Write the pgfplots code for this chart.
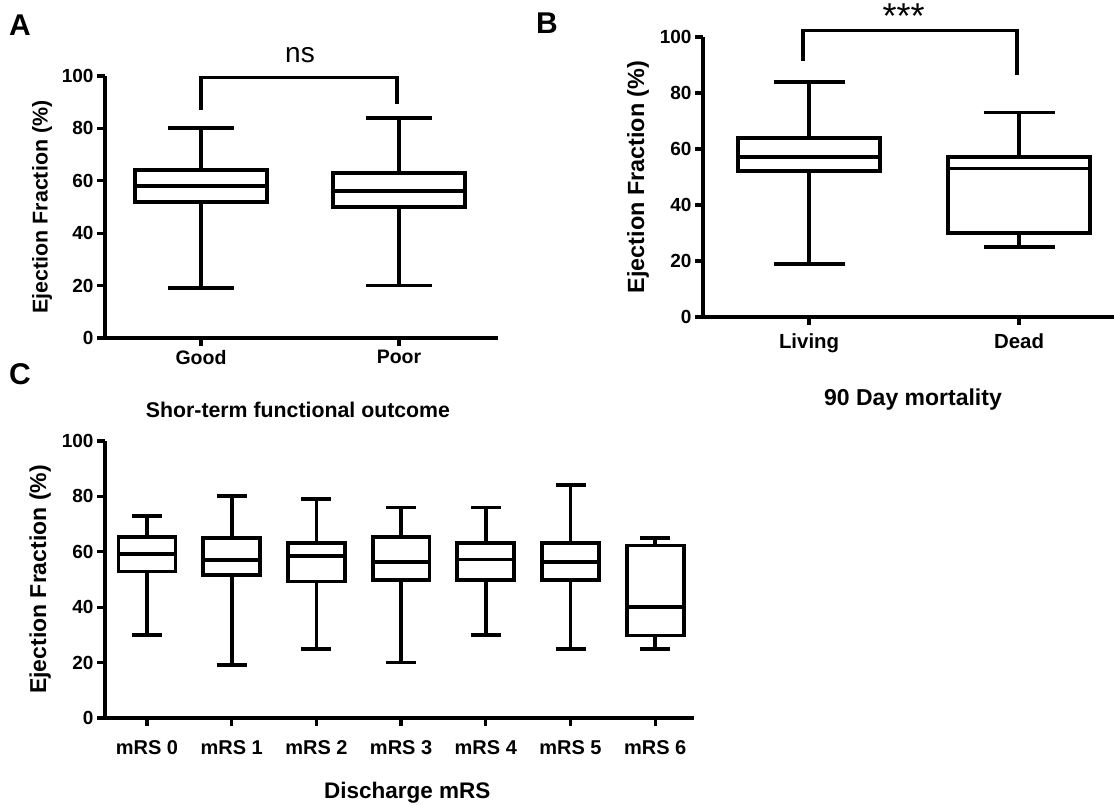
\documentclass[border=0pt]{standalone}
\usepackage{fontspec}
\setmainfont{Liberation Sans}
\usepackage{pgfplots}
\pgfplotsset{compat=1.18}

\pgfplotsset{
  gp/.style={
    scale only axis,
    axis x line*=bottom, axis y line*=left,
    axis line style={-, line width=3.3bp, black},
    tick align=outside,
    major tick length=8bp,
    every tick/.style={black, line width=3.3bp},
    ymin=0, ymax=100, ytick={0,20,...,100},
    /pgf/number format/assume math mode=true,
    tick label style={font=\fontsize{19bp}{22bp}\selectfont\bfseries},
    label style={font=\fontsize{20bp}{23bp}\selectfont\bfseries},
    clip=false,
  },
  wk/.style={black, line width=3.8bp, line join=miter, no markers, solid},
  br/.style={black, line width=3.5bp, line join=miter, no markers},
}

% \bxp{position}{lower whisker}{Q1}{median}{Q3}{upper whisker}{half box width}{half cap width}
\newcommand\bxp[8]{%
  \pgfmathsetmacro\bxL{#1-#7}\pgfmathsetmacro\bxR{#1+#7}%
  \pgfmathsetmacro\cpL{#1-#8}\pgfmathsetmacro\cpR{#1+#8}%
  \edef\bxtmp{%
  \noexpand\addplot[wk] coordinates {(#1,#3) (#1,#2)};
  \noexpand\addplot[wk] coordinates {(\cpL,#2) (\cpR,#2)};
  \noexpand\addplot[wk] coordinates {(#1,#5) (#1,#6)};
  \noexpand\addplot[wk] coordinates {(\cpL,#6) (\cpR,#6)};
  \noexpand\addplot[wk, fill=white] coordinates {(\bxL,#3) (\bxR,#3) (\bxR,#5) (\bxL,#5)} -- cycle;
  \noexpand\addplot[wk] coordinates {(\bxL,#4) (\bxR,#4)};
  }\bxtmp}

\begin{document}
\begin{tikzpicture}
\useasboundingbox (0bp,0bp) rectangle (1114bp,806bp);

% ---------------- Panel A ----------------
\begin{axis}[gp,
  at={(105bp,468bp)}, anchor=south west,
  width=393bp, height=262bp,
  xmin=-0.485, xmax=1.5,
  xtick={0,1}, xticklabels={Good,Poor},
  xticklabel style={font=\fontsize{19.5bp}{22bp}\selectfont\bfseries, yshift=-1bp},
  xlabel={Shor-term functional outcome},
  xlabel style={at={(axis description cs:0.491,-0.275)}, anchor=center,
    font=\fontsize{21.3bp}{24bp}\selectfont\bfseries},
  ylabel={Ejection Fraction (\%)},
  ylabel style={at={(axis description cs:-0.160,0.5)}, anchor=center,
    font=\fontsize{21.4bp}{24bp}\selectfont\bfseries},
]
\bxp{0}{19}{52}{58}{64}{80}{0.335}{0.165}
\bxp{1}{20}{50}{56}{63}{84}{0.335}{0.165}
\addplot[br] coordinates {(0,87) (0,99.5) (0.99,99.5) (0.99,89.5)};
\node[font=\fontsize{28bp}{30bp}\selectfont] at (axis cs:0.5,108) {ns};
\end{axis}

% ---------------- Panel B ----------------
\begin{axis}[gp,
  at={(703bp,489bp)}, anchor=south west,
  width=411bp, height=280bp,
  xmin=-0.505, xmax=1.452,
  xtick={0,1}, xticklabels={Living,Dead},
  xticklabel style={font=\fontsize{20.4bp}{23bp}\selectfont\bfseries, yshift=-5bp},
  xlabel={90 Day mortality},
  xlabel style={at={(axis description cs:0.511,-0.296)}, anchor=center,
    font=\fontsize{23bp}{26bp}\selectfont\bfseries},
  ylabel={Ejection Fraction (\%)},
  ylabel style={at={(axis description cs:-0.158,0.5)}, anchor=center,
    font=\fontsize{23.4bp}{26bp}\selectfont\bfseries},
]
\bxp{0}{19}{52}{57}{64}{84}{0.338}{0.169}
\bxp{1}{25}{30}{53}{57}{73}{0.338}{0.169}
\addplot[br] coordinates {(-0.03,91.5) (-0.03,102.3) (0.99,102.3) (0.99,86.5)};
\node[font=\fontsize{36bp}{38bp}\selectfont, anchor=north, inner sep=0pt] at (axis cs:0.45,112) {***};
\end{axis}

% ---------------- Panel C ----------------
\begin{axis}[gp,
  at={(105bp,88bp)}, anchor=south west,
  width=589bp, height=277bp,
  xmin=-0.496, xmax=6.458,
  xtick={0,...,6}, xticklabels={mRS 0,mRS 1,mRS 2,mRS 3,mRS 4,mRS 5,mRS 6},
  xticklabel style={font=\fontsize{20bp}{23bp}\selectfont\bfseries, yshift=-11bp},
  xlabel={Discharge mRS},
  xlabel style={at={(axis description cs:0.513,-0.271)}, anchor=center,
    font=\fontsize{22.5bp}{25bp}\selectfont\bfseries},
  ylabel={Ejection Fraction (\%)},
  ylabel style={at={(axis description cs:-0.110,0.5)}, anchor=center,
    font=\fontsize{23bp}{26bp}\selectfont\bfseries},
]
\bxp{0}{30}{52.9}{59.2}{65.3}{73}{0.336}{0.177}
\bxp{1}{19}{51.7}{57}{65.1}{80}{0.336}{0.177}
\bxp{2}{25}{49.3}{58.6}{63.3}{79}{0.336}{0.177}
\bxp{3}{20}{49.7}{56.3}{65.3}{76}{0.336}{0.177}
\bxp{4}{30}{49.9}{57.2}{63.3}{76}{0.336}{0.177}
\bxp{5}{25}{49.7}{56.2}{63.2}{84}{0.336}{0.177}
\bxp{6}{25}{29.8}{40}{62.3}{65}{0.336}{0.177}
\end{axis}

% panel letters
\node[font=\fontsize{30bp}{32bp}\selectfont\bfseries] at (20bp,781bp) {A};
\node[font=\fontsize{30bp}{32bp}\selectfont\bfseries] at (547bp,783bp) {B};
\node[font=\fontsize{30bp}{32bp}\selectfont\bfseries] at (20bp,432bp) {C};
\end{tikzpicture}
\end{document}
